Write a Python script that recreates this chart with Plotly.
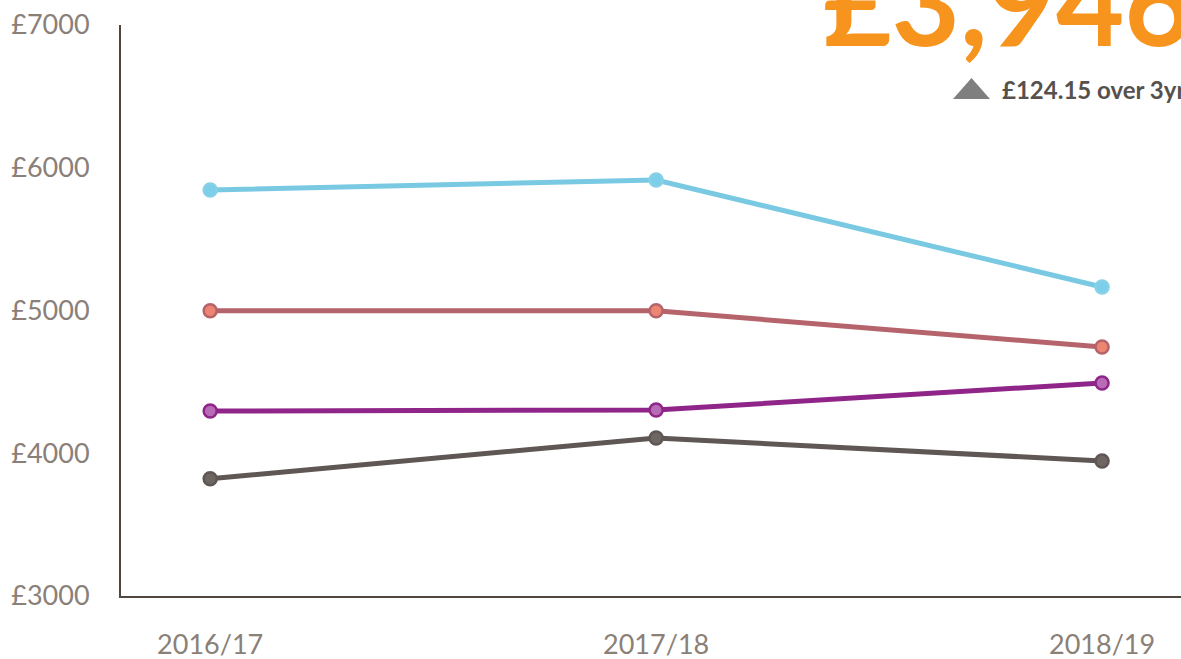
import plotly.graph_objects as go

years = ["2016/17", "2017/18", "2018/19"]
series_blue = [5844, 5914, 5165]
series_red = [4998, 4998, 4744]
series_purple = [4296, 4303, 4492]
series_dark = [3822, 4107, 3946]
headline = "£3,946"
change_text = "£124.15 over 3yrs"

W, H = 1181, 659
L, R, T, B = 121, 0, 25, 63

def px(x):
    return (x - L) / (W - L - R)

def py(y):
    return (H - B - y) / (H - B - T)

styles = [
    (series_blue, "#79c9e3", "#7dcfe9", "#86d0e8"),
    (series_red, "#b4646a", "#ec8572", "#b4646a"),
    (series_purple, "#8f2489", "#b86cb5", "#8f2489"),
    (series_dark, "#5e5754", "#6e6663", "#5e5754"),
]

fig = go.Figure()
for vals, lc, mf, ml in styles:
    fig.add_trace(go.Scatter(
        x=years, y=vals, mode="lines+markers",
        line=dict(color=lc, width=5),
        marker=dict(size=13, color=mf, line=dict(color=ml, width=2.5)),
        showlegend=False, hoverinfo="skip", cliponaxis=False,
    ))

fig.update_layout(
    width=W, height=H,
    margin=dict(l=L, r=R, t=T, b=B, autoexpand=False),
    paper_bgcolor="white", plot_bgcolor="white",
    font=dict(family="Lato", size=28, color="#8b8078"),
    xaxis=dict(
        type="category", range=[-0.2, 2.177], automargin=False,
        showline=True, linecolor="#4f4640", linewidth=2,
        showgrid=False, zeroline=False, ticks="",
        ticklabelstandoff=24,
        tickfont=dict(family="Lato", size=27, color="#8b8078"),
    ),
    yaxis=dict(
        range=[3000, 7000], dtick=1000, tickprefix="£", automargin=False,
        showline=True, linecolor="#4f4640", linewidth=2,
        showgrid=False, zeroline=False, ticks="",
        ticklabelstandoff=24,
        tickfont=dict(family="Lato", size=27, color="#8b8078"),
    ),
)

fig.add_annotation(
    xref="paper", yref="paper", x=px(821), y=py(48),
    xanchor="left", yanchor="bottom", showarrow=False,
    text="<b>" + headline + "</b>",
    font=dict(family="Lato", size=118, color="#f7941d"),
    yshift=-25,
)
fig.add_shape(
    type="path", xref="paper", yref="paper",
    path="M {:.5f} {:.5f} L {:.5f} {:.5f} L {:.5f} {:.5f} Z".format(
        px(953), py(99), px(990), py(99), px(971.5), py(78)),
    fillcolor="#7f7f7f", line=dict(width=0),
)
fig.add_annotation(
    xref="paper", yref="paper", x=px(1000), y=py(89),
    xanchor="left", yanchor="middle", showarrow=False,
    text="<b>" + change_text + "</b>",
    font=dict(family="Lato", size=24, color="#57514e"),
)

fig.write_html(
    "out.html",
    config={"displayModeBar": False, "staticPlot": True},
    post_script="document.body.style.margin='0';document.body.style.overflow='hidden';",
)
